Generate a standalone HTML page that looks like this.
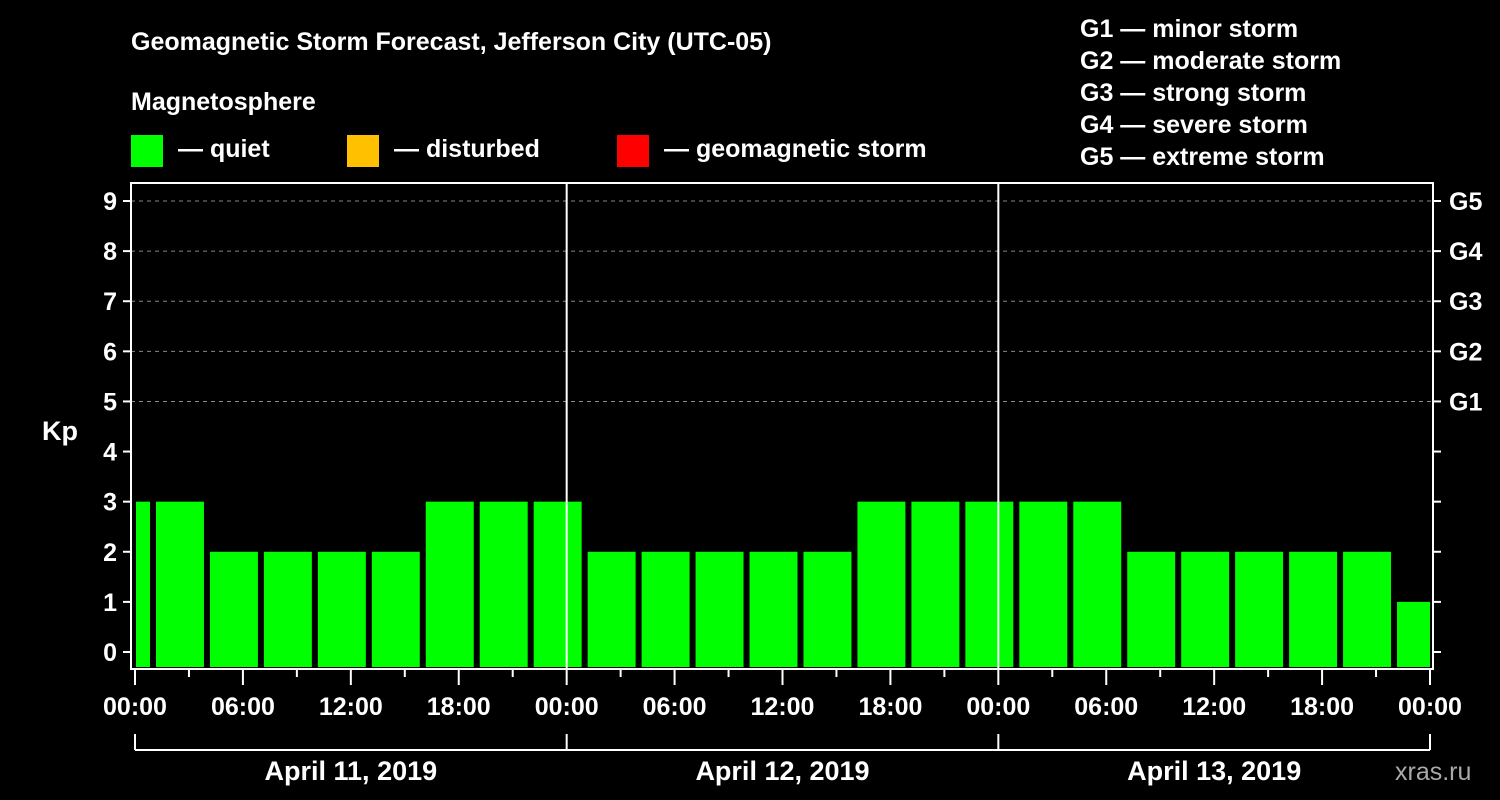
<!DOCTYPE html>
<html><head><meta charset="utf-8"><style>
html,body{margin:0;padding:0;background:#000;}
svg{display:block;font-family:"Liberation Sans",Arial,sans-serif;font-weight:bold;}
</style></head><body>
<svg width="1500" height="800" viewBox="0 0 1500 800">
<g id="header" fill="#fff" font-size="25">
<text x="131" y="50">Geomagnetic Storm Forecast, Jefferson City (UTC-05)</text>
<text x="131" y="110">Magnetosphere</text>
<rect x="131" y="135" width="32" height="32" fill="#00ff00"/>
<text x="178" y="157">— quiet</text>
<rect x="347" y="135" width="32" height="32" fill="#ffc000"/>
<text x="394" y="157">— disturbed</text>
<rect x="617" y="135" width="32" height="32" fill="#ff0000"/>
<text x="664" y="157">— geomagnetic storm</text>
<text x="1080" y="37">G1 — minor storm</text>
<text x="1080" y="69">G2 — moderate storm</text>
<text x="1080" y="101">G3 — strong storm</text>
<text x="1080" y="133">G4 — severe storm</text>
<text x="1080" y="165">G5 — extreme storm</text>
<text x="42" y="440" font-size="27">Kp</text>
<text x="1395" y="780" font-size="25" fill="#aaa" font-weight="normal">xras.ru</text>
</g>
<g id="grid"></g>
<g id="bars"></g>
<g id="axes"></g>
</svg>
<script>
const kpValues=[3,3,2,2,2,2,3,3,3,2,2,2,2,2,3,3,3,3,3,2,2,2,2,2,1];
const yTicks=[0,1,2,3,4,5,6,7,8,9];
const gLabels=["G1","G2","G3","G4","G5"];
const xTickLabels=["00:00","06:00","12:00","18:00","00:00","06:00","12:00","18:00","00:00","06:00","12:00","18:00","00:00"];
const dayLabels=["April 11, 2019","April 12, 2019","April 13, 2019"];
const startHour=-2, barHours=3, totalHours=72;
const NS="http://www.w3.org/2000/svg";
const L=131,R=1433,T=183,B=669,X0=135,X1=1430;
const xs=h=>X0+(X1-X0)*h/totalHours;
const ys=v=>652-(652-201)*v/9;
function mk(tag,attrs,parent){const e=document.createElementNS(NS,tag);for(const k in attrs)e.setAttribute(k,attrs[k]);parent.appendChild(e);return e;}
const grid=document.getElementById('grid'),bars=document.getElementById('bars'),axes=document.getElementById('axes');
yTicks.forEach(v=>{if(v>=5){const l=mk('line',{x1:L,x2:R,y1:ys(v),y2:ys(v),stroke:'#888','stroke-dasharray':'4,4','stroke-width':1},grid);

}});
kpValues.forEach((v,i)=>{const h0=startHour+i*barHours;let x0=xs(h0)+3,x1=xs(h0+barHours)-3;
x0=Math.max(x0,X0+1);x1=Math.min(x1,X1);
const c=v>=5?'#ff0000':(v>=4?'#ffc000':'#00ff00');
const r=mk('rect',{x:x0,y:ys(v),width:x1-x0,height:667-ys(v),fill:c},bars);

});
const frame=mk('rect',{x:L,y:T,width:R-L,height:B-T,fill:'none',stroke:'#fff','stroke-width':2},axes);


[1,2].forEach(d=>{const l=mk('line',{x1:xs(d*24),x2:xs(d*24),y1:T,y2:B,stroke:'#fff','stroke-width':2},axes);

});
yTicks.forEach(v=>{const y=ys(v);
mk('line',{x1:L-8,x2:L,y1:y,y2:y,stroke:'#fff','stroke-width':2},axes);
mk('line',{x1:R,x2:R+8,y1:y,y2:y,stroke:'#fff','stroke-width':2},axes);
const t=mk('text',{x:L-14,y:y+9,fill:'#fff','font-size':25,'text-anchor':'end'},axes);t.textContent=v;


if(v>=5){const g=mk('text',{x:1449,y:y+9,fill:'#fff','font-size':25},axes);g.textContent=gLabels[v-5];

}});
for(let h=0;h<=totalHours;h+=3){const x=xs(h);const major=h%6===0;
mk('line',{x1:x,x2:x,y1:B,y2:major?685:677,stroke:'#fff','stroke-width':2},axes);}
xTickLabels.forEach((s,i)=>{const t=mk('text',{x:xs(i*6),y:715,fill:'#fff','font-size':25,'text-anchor':'middle'},axes);t.textContent=s;

});
const br=mk('line',{x1:X0,x2:X1,y1:750,y2:750,stroke:'#fff','stroke-width':2},axes);


for(let d=0;d<=3;d++)mk('line',{x1:xs(d*24),x2:xs(d*24),y1:734,y2:750,stroke:'#fff','stroke-width':2},axes);
dayLabels.forEach((s,i)=>{const t=mk('text',{x:xs(i*24+12),y:780,fill:'#fff','font-size':27,'text-anchor':'middle'},axes);t.textContent=s;

});
</script>
</body></html>
